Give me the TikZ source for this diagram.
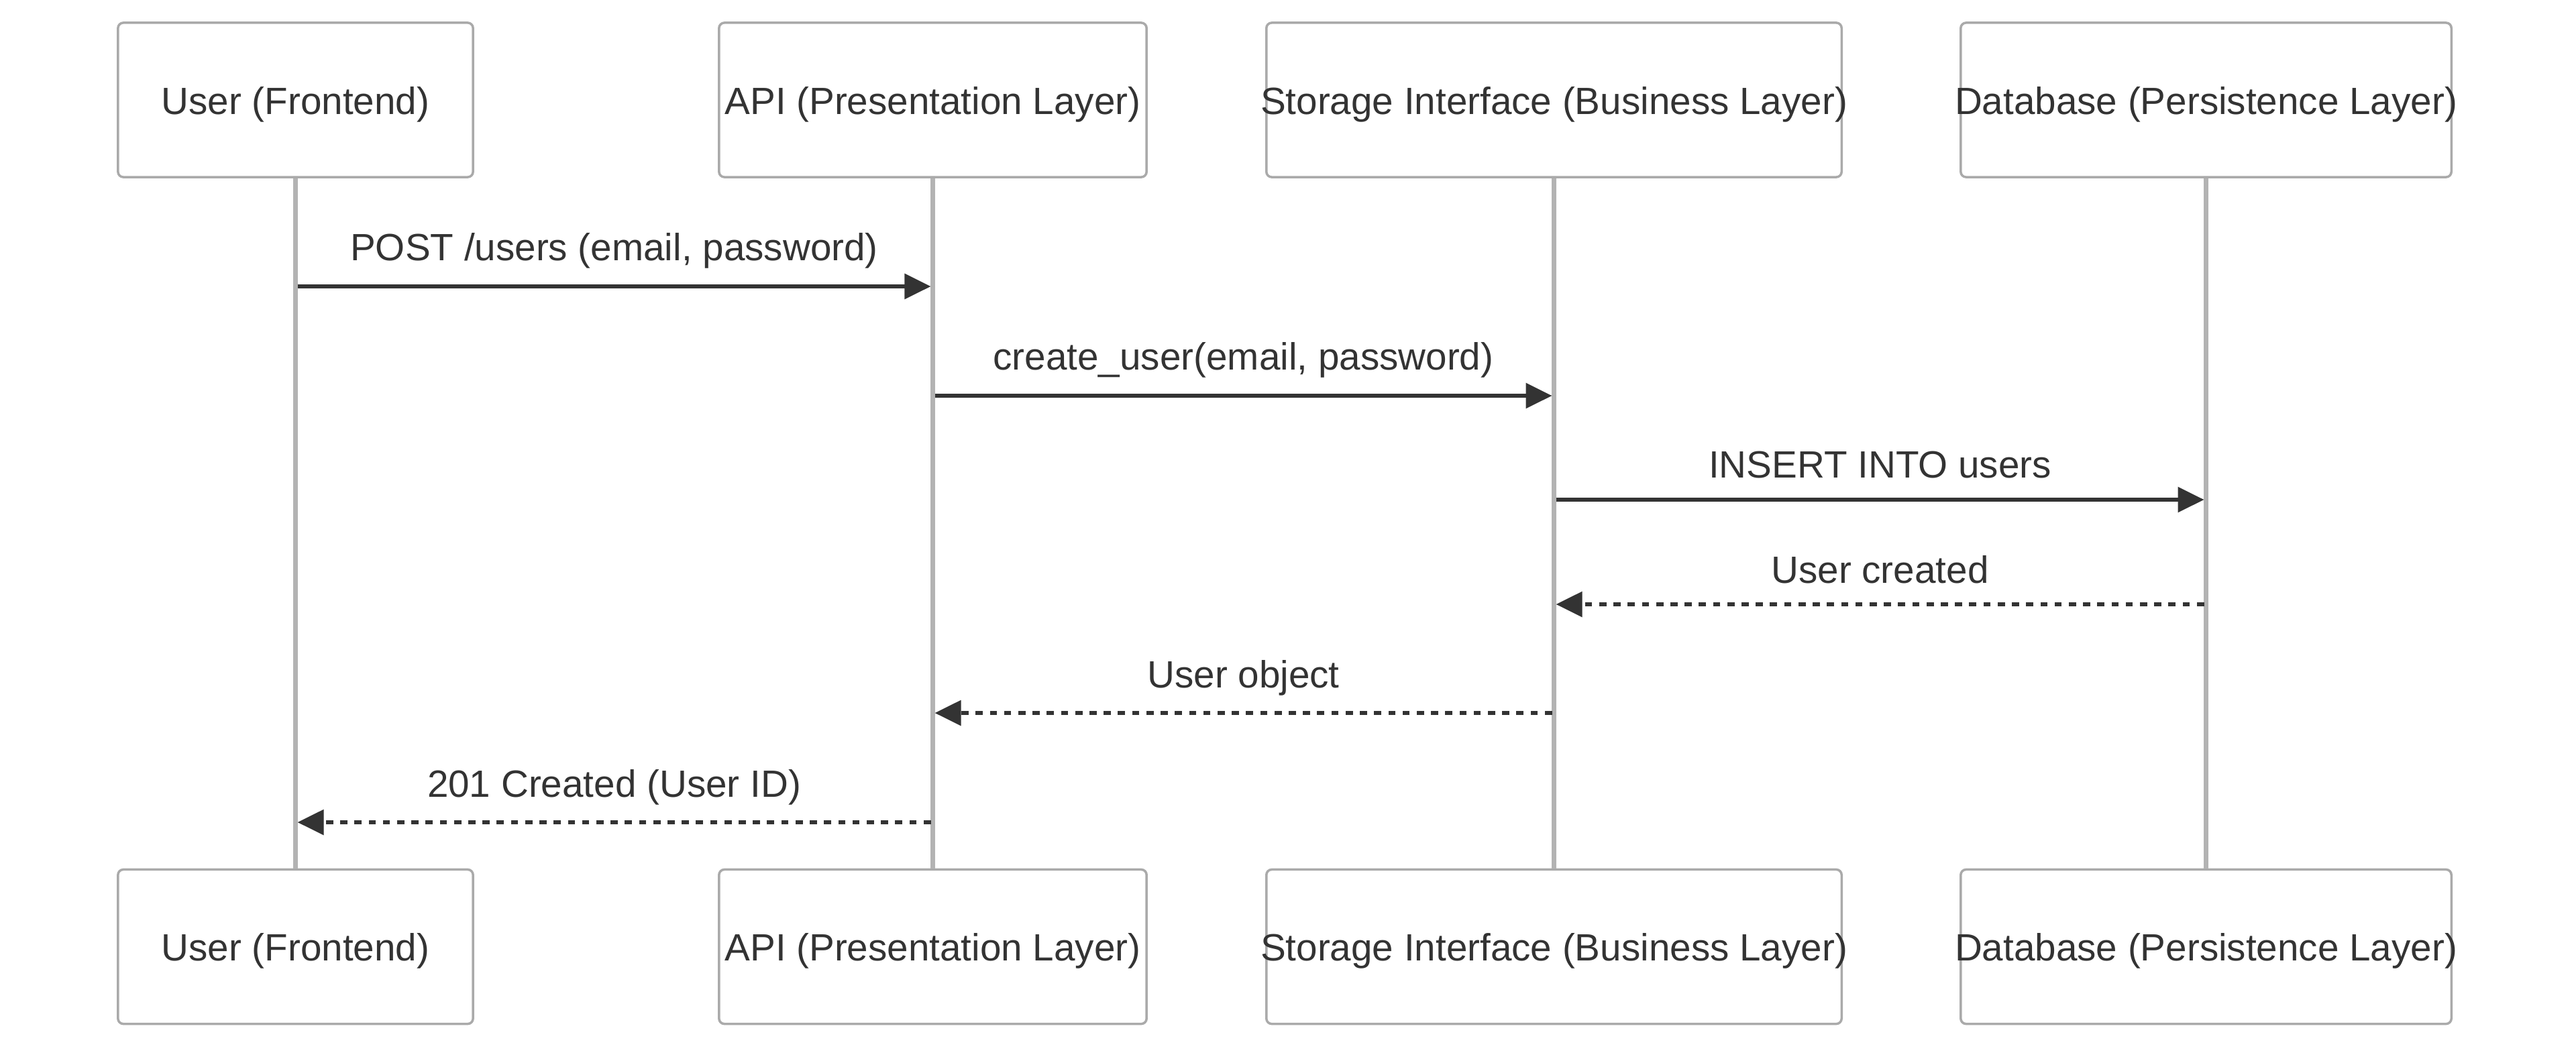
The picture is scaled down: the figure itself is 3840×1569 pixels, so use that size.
\documentclass[tikz,border=0pt]{standalone}
\usepackage{fontspec}
\setmainfont{Liberation Sans}
\usepackage{tikz}
\usepackage{xcolor}
\usetikzlibrary{arrows.meta}
\definecolor{ink}{HTML}{333333}
\definecolor{rim}{HTML}{AAAAAA}
\definecolor{life}{HTML}{B3B3B3}
\newcommand{\lbl}{\fontsize{16.1pt}{19pt}\selectfont}
\tikzset{
	actor/.style={draw=rim,line width=0.035cm,rounded corners=0.08cm,fill=white,minimum height=2.3cm,inner sep=0pt,text height=0.42cm,text depth=0cm,text=ink,font=\lbl},
	lifeline/.style={draw=life,line width=0.065cm},
	call/.style={draw=ink,line width=0.055cm,-{Triangle[length=0.39cm,width=0.37cm]},shorten <=0.03cm,shorten >=0.03cm},
	reply/.style={call,dash pattern=on 0.107cm off 0.105cm},
	msg/.style={anchor=base,yshift=0.38cm,inner sep=0pt,text=ink,font=\lbl}
}
\begin{document}
\begin{tikzpicture}[x=0.01cm,y=-0.01cm]
\useasboundingbox (0,0) rectangle (3840,1569);

% participants, top row
\node[actor,minimum width=5.29cm] (usrT) at (440.5,149) {\makebox[0pt]{User (Frontend)}};
\node[actor,minimum width=6.37cm] (apiT) at (1390.5,149) {\makebox[0pt]{API (Presentation Layer)}};
\node[actor,minimum width=8.57cm] (stoT) at (2316.5,149) {\makebox[0pt]{Storage Interface (Business Layer)}};
\node[actor,minimum width=7.31cm] (dbT) at (3288.5,149) {\makebox[0pt]{Database (Persistence Layer)}};
% participants, bottom row
\node[actor,minimum width=5.29cm] (usrB) at (440.5,1411.5) {\makebox[0pt]{User (Frontend)}};
\node[actor,minimum width=6.37cm] (apiB) at (1390.5,1411.5) {\makebox[0pt]{API (Presentation Layer)}};
\node[actor,minimum width=8.57cm] (stoB) at (2316.5,1411.5) {\makebox[0pt]{Storage Interface (Business Layer)}};
\node[actor,minimum width=7.31cm] (dbB) at (3288.5,1411.5) {\makebox[0pt]{Database (Persistence Layer)}};

\draw[lifeline] (usrT) -- (usrB);
\draw[lifeline] (apiT) -- (apiB);
\draw[lifeline] (stoT) -- (stoB);
\draw[lifeline] (dbT) -- (dbB);

% messages
\coordinate (m1) at (0,427);
\coordinate (m2) at (0,590);
\coordinate (m3) at (0,745);
\coordinate (m4) at (0,901);
\coordinate (m5) at (0,1063);
\coordinate (m6) at (0,1226);
\draw[call] (usrT |- m1) -- (apiT |- m1) node[msg,midway] (t1) {POST /users (email, password)};
\draw[call] (apiT |- m2) -- (stoT |- m2) node[msg,midway] (t2) {create\_user(email, password)};
\draw[call] (stoT |- m3) -- (dbT |- m3) node[msg,midway,yshift=-0.06cm] (t3) {INSERT INTO users};
\draw[reply] (dbT |- m4) -- (stoT |- m4) node[msg,midway,yshift=-0.06cm] (t4) {User created};
\draw[reply] (stoT |- m5) -- (apiT |- m5) node[msg,midway] (t5) {User object};
\draw[reply] (apiT |- m6) -- (usrT |- m6) node[msg,midway] (t6) {201 Created (User ID)};

\end{tikzpicture}
\end{document}
